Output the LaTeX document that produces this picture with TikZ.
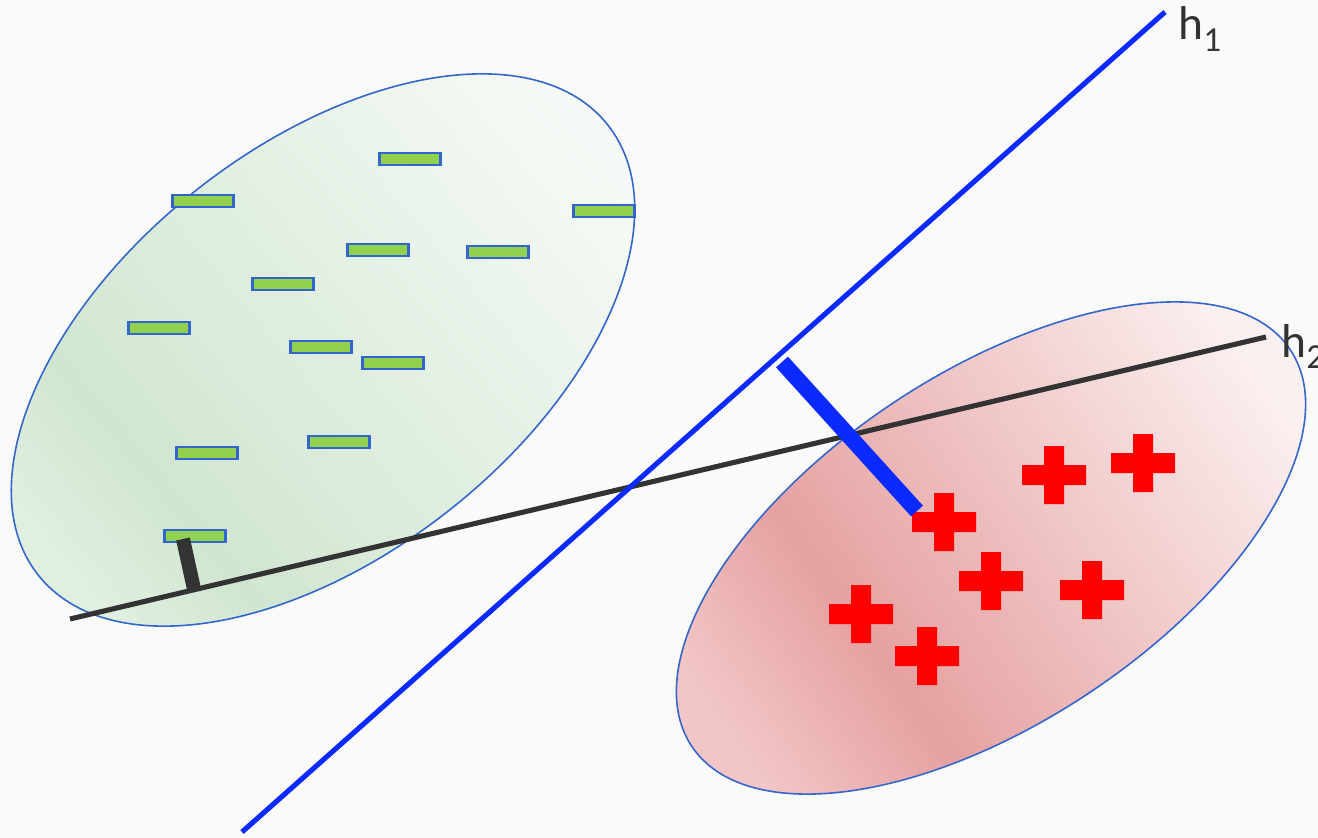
\documentclass[tikz,border=0pt]{standalone}
\usepackage{fontspec}
\setmainfont{Carlito}
\definecolor{bg}{HTML}{FAFAFA}
\definecolor{cedge}{HTML}{3366CC}
\definecolor{cgrnd}{HTML}{D0E6D1}
\definecolor{cgrne}{HTML}{E0EFE0}
\definecolor{cgrnl}{HTML}{F6FAF6}
\definecolor{credd}{HTML}{E6A1A1}
\definecolor{crede}{HTML}{F2C6C6}
\definecolor{credl}{HTML}{FBF0F0}
\definecolor{cminus}{HTML}{92D050}
\definecolor{cplus}{HTML}{FF0000}
\definecolor{chyp}{HTML}{0A2AFF}
\definecolor{cdark}{HTML}{333333}
\pgfdeclareverticalshading{greenblob}{100bp}{color(0bp)=(cgrne); color(25bp)=(cgrne);
  color(34bp)=(cgrnd); color(75bp)=(cgrnl); color(100bp)=(cgrnl)}
\pgfdeclareverticalshading{redblob}{100bp}{color(0bp)=(crede); color(25bp)=(crede);
  color(38bp)=(credd); color(75bp)=(credl); color(100bp)=(credl)}
\newcommand{\hsub}[1]{\raisebox{-6.5pt}{\fontsize{20}{22}\selectfont #1}}
\newcommand{\plussign}[1]{\fill[plusmark, shift={(#1)}] (-32,-10) rectangle (32,10) (-10,-29) rectangle (10,29);}

\begin{document}
\begin{tikzpicture}[
  x=0.02cm, y=-0.02cm,
  blob/.style={draw=cedge, line width=0.9pt},
  minus/.style={draw=cedge, fill=cminus, line width=1.3pt, inner sep=0pt,
                minimum width=1.22cm, minimum height=0.23cm},
  plusmark/.style={fill=cplus},
  hyper/.style={line width=2.9pt},
  bar/.style={line width=#1, line cap=butt},
  lbl/.style={text=cdark, inner sep=0pt, anchor=base west, font=\fontsize{27}{30}\selectfont},
]
\fill[bg] (0,0) rectangle (1318,838);
\useasboundingbox (0,0) rectangle (1318,838);

% ------------------------------------------------------------ classes
\shade[blob, shading=greenblob, shading angle=-50, rotate around={38.3:(323,350)}]
  (323,350) ellipse (363 and 204);
\shade[blob, shading=redblob, shading angle=-55, rotate around={33.5:(991,548)}]
  (991,548) ellipse (359 and 175);

% negatives
\node[minus] (m1) at (410,159) {};
\node[minus] (m2) at (203,201) {};
\node[minus] (m3) at (604,211) {};
\node[minus] (m4) at (378,250) {};
\node[minus] (m5) at (498,252) {};
\node[minus] (m6) at (283,284) {};
\node[minus] (m7) at (159,328) {};
\node[minus] (m8) at (321,347) {};
\node[minus] (m9) at (393,363) {};
\node[minus] (m10) at (207,453) {};
\node[minus] (m11) at (339,442) {};
\node[minus] (m12) at (195,536) {};

% positives
\plussign{944,522}
\plussign{1054,475}
\plussign{1143,463}
\plussign{991,581}
\plussign{1092,590}
\plussign{861,614}
\plussign{927,656}

% ------------------------------------------------------------ separators
\coordinate (h2a) at (70,619);
\coordinate (h2b) at (1266,337);
\draw[hyper, draw=cdark] (h2a) -- (h2b);
\coordinate (gapa) at (183,539);
\coordinate (gapb) at (194,589);
\draw[bar=0.28cm, draw=cdark] (gapa) -- (gapb);

\coordinate (h1a) at (242,832);
\coordinate (h1b) at (1165,12);
\draw[hyper, draw=chyp] (h1a) -- (h1b);
\coordinate (wida) at (782,362);
\coordinate (widb) at (917,511);
\draw[bar=0.32cm, draw=chyp] (wida) -- (widb);

\node[lbl] (h1) at (1178,40) {h\hsub{1}};
\node[lbl] (h2) at (1281,357) {h\hsub{2}};
\end{tikzpicture}
\end{document}
